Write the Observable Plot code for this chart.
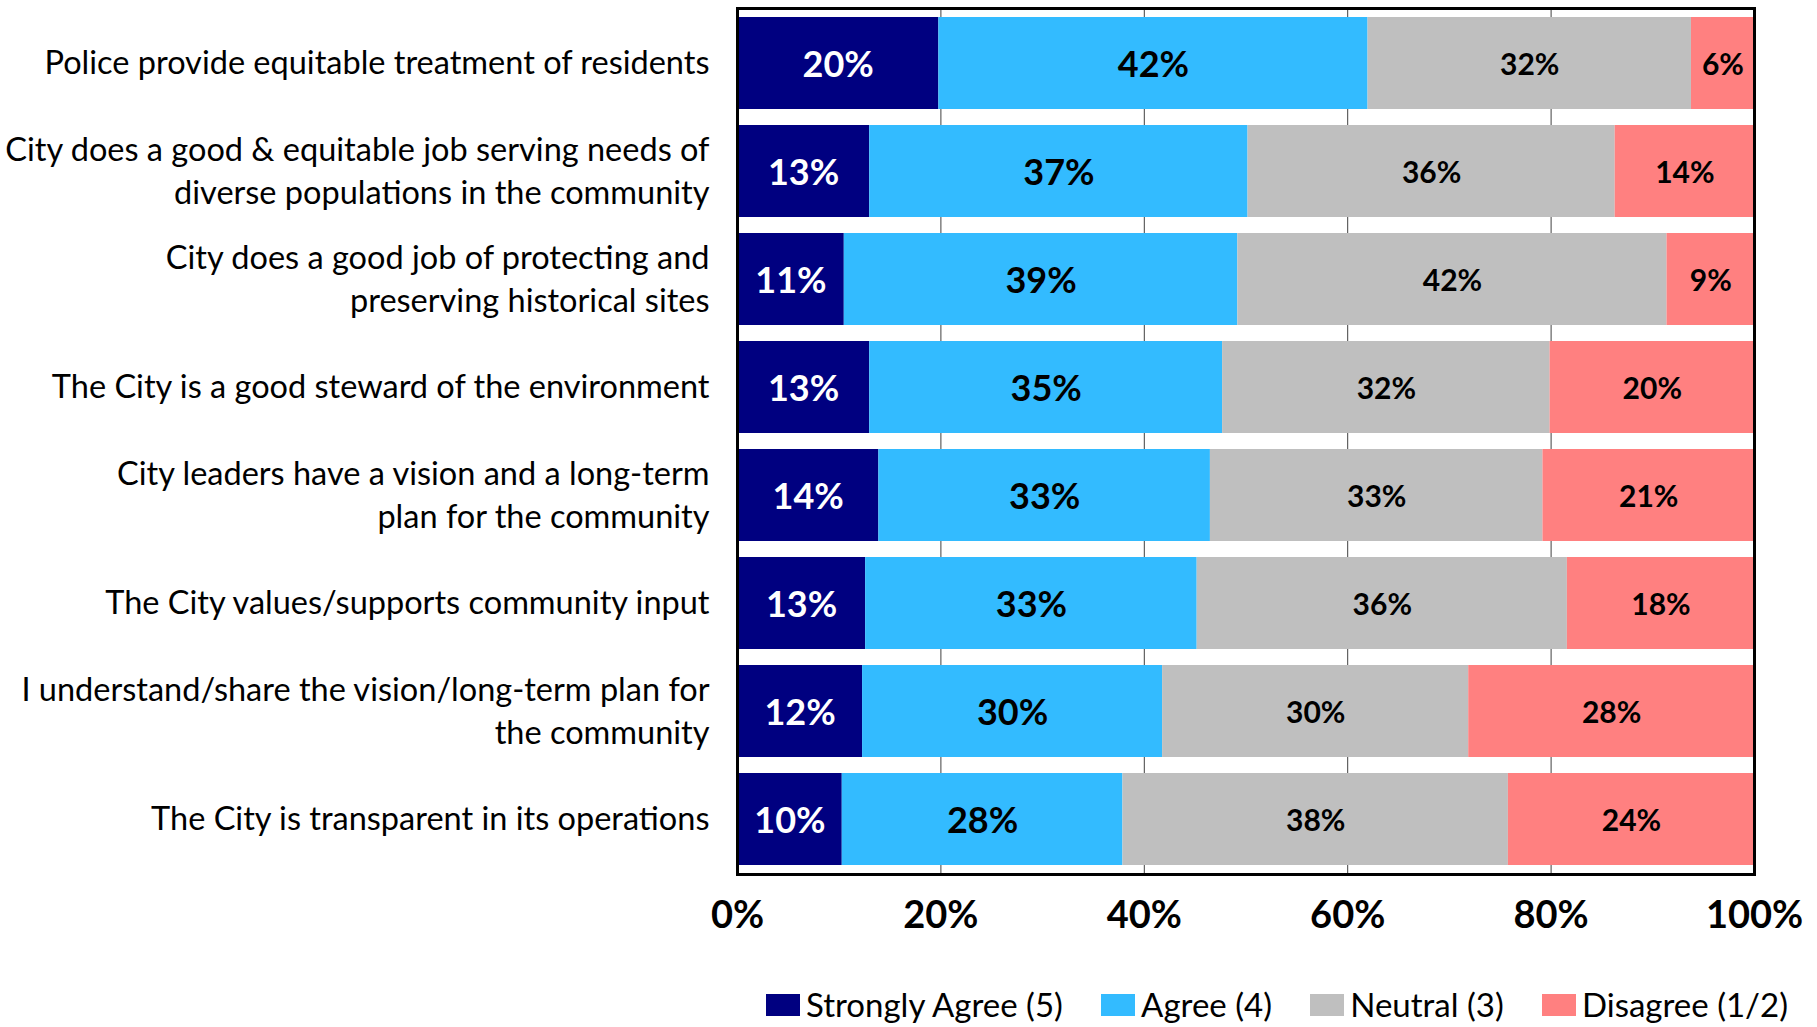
<!DOCTYPE html>
<html>
<head>
<meta charset="utf-8">
<script src="https://cdn.jsdelivr.net/npm/d3@7"></script>
<script src="https://cdn.jsdelivr.net/npm/@observablehq/plot@0.6"></script>
<style>
  html, body { margin: 0; padding: 0; background: #fff; }
  body { width: 1817px; height: 1027px; position: relative; overflow: hidden; font-family: Lato, sans-serif; }
  #legend { position: absolute; left: 766px; top: 988px; width: 1022px; display: flex; justify-content: space-between; align-items: center; font-size: 33px; color: #000; line-height: 1; }
  .item { display: flex; align-items: center; }
  .sw { width: 34px; height: 22px; margin-right: 6px; }
</style>
</head>
<body>
<div id="chart"></div>
<div id="legend"></div>
<script>
const questions = [
  "Police provide equitable treatment of residents",
  "City does a good & equitable job serving needs of\ndiverse populations in the community",
  "City does a good job of protecting and\npreserving historical sites",
  "The City is a good steward of the environment",
  "City leaders have a vision and a long-term\nplan for the community",
  "The City values/supports community input",
  "I understand/share the vision/long-term plan for\nthe community",
  "The City is transparent in its operations"
];
const series = ["Strongly Agree (5)", "Agree (4)", "Neutral (3)", "Disagree (1/2)"];
const colors = ["#000080", "#33BBFF", "#BFBFBF", "#FF8080"];
const stronglyAgree = [19.8, 13.0, 10.5, 13.0, 13.9, 12.6, 12.3, 10.3];
const agree         = [42.2, 37.2, 38.7, 34.7, 32.6, 32.6, 29.5, 27.6];
const neutral       = [31.8, 36.1, 42.2, 32.2, 32.7, 36.4, 30.1, 37.9];
const disagree      = [ 6.2, 13.7,  8.6, 20.1, 20.8, 18.4, 28.1, 24.2];
const xTicks = [0, 20, 40, 60, 80, 100];
const gridTicks = [20, 40, 60, 80];

const valuesBySeries = [stronglyAgree, agree, neutral, disagree];
const data = questions.flatMap((q, i) =>
  series.map((s, j) => ({question: q, series: s, value: valuesBySeries[j][i]}))
);
const label = d => Math.round(d.value) + "%";

const chart = Plot.plot({
  width: 1817,
  height: 950,
  marginLeft: 737,
  marginRight: 63,
  marginTop: 8,
  marginBottom: 76,
  style: {fontFamily: "Lato, sans-serif", color: "#000", background: "#fff", overflow: "visible"},
  x: {domain: [0, 100], label: null},
  y: {domain: questions, paddingInner: 0.15, paddingOuter: 0.075, label: null},
  color: {domain: series, range: colors},
  marks: [
    Plot.ruleX(gridTicks, {stroke: "#404040", strokeWidth: 1}),
    Plot.barX(data, {y: "question", x: "value", fill: "series", z: "series"}),
    Plot.text(data, Plot.stackX({
      y: "question", x: "value", z: "series",
      text: d => d.series === series[0] ? label(d) : "",
      fill: "white", fontWeight: "bold", fontSize: 36, dy: 2
    })),
    Plot.text(data, Plot.stackX({
      y: "question", x: "value", z: "series",
      text: d => d.series === series[0] ? "" : label(d),
      fill: "black", fontWeight: "bold", dy: 2,
      fontSize: d => d.series === series[1] ? 36 : 30
    })),
    Plot.frame({stroke: "#000", strokeWidth: 3}),
    Plot.axisY({tickSize: 0, tickPadding: 28, fontSize: 32.5, lineHeight: 1.32, dy: -3, label: null}),
    Plot.axisX({ticks: xTicks, tickFormat: d => d + "%", tickSize: 0, tickPadding: 27, fontSize: 38, fontWeight: "bold", label: null})
  ]
});
document.getElementById("chart").appendChild(chart);

const legend = document.getElementById("legend");
series.forEach((s, j) => {
  const item = document.createElement("div");
  item.className = "item";
  const sw = document.createElement("span");
  sw.className = "sw";
  sw.style.background = colors[j];
  const t = document.createElement("span");
  t.textContent = s;
  item.appendChild(sw);
  item.appendChild(t);
  legend.appendChild(item);
});
</script>
</body>
</html>
